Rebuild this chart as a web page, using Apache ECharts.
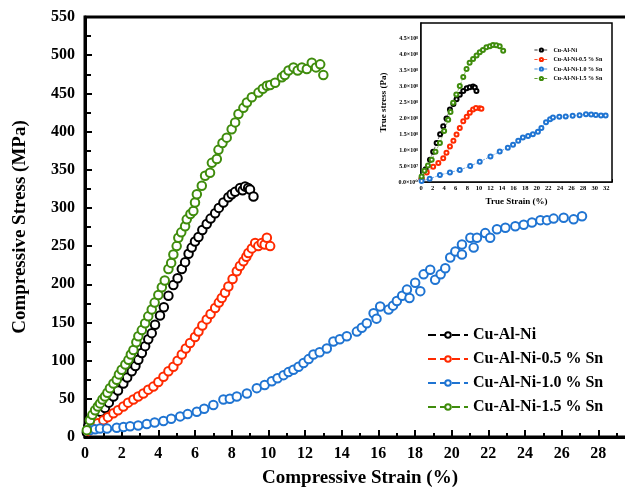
<!DOCTYPE html>
<html><head><meta charset="utf-8">
<script src="https://cdn.jsdelivr.net/npm/echarts@6/dist/echarts.min.js"></script>
<style>html,body{margin:0;padding:0;background:#fff}#c{width:625px;height:493px}</style>
</head><body><div id="c"></div><script>
// ---------- data (main plot: compressive strain %, compressive stress MPa) ----------
var seriesNames = ['Cu-Al-Ni', 'Cu-Al-Ni-0.5 % Sn', 'Cu-Al-Ni-1.0 % Sn', 'Cu-Al-Ni-1.5 % Sn'];
var seriesColors = ['#000000', '#ff2a00', '#1f74d2', '#3f8c0c'];

var mainCuAlNi = [[0.1,6],[0.18,14],[0.4,21],[0.64,27],[0.85,33],[1.09,38],[1.3,45],[1.55,53],[1.8,61],[2.09,70],[2.3,78],[2.55,86],[2.75,93],[2.91,101],[3.1,110],[3.28,119],[3.45,128],[3.64,136],[3.82,147],[4.09,159],[4.3,170],[4.55,185],[4.82,199],[5.05,208],[5.28,220],[5.46,229],[5.65,240],[5.82,248],[6.0,256],[6.19,262],[6.4,271],[6.64,279],[6.85,286],[7.1,293],[7.3,300],[7.55,307],[7.82,314],[8.0,318],[8.19,321],[8.46,326],[8.6,323],[8.73,328],[8.9,326],[9.0,324],[9.19,315]];
var mainSn05 = [[0.2,8],[0.45,14],[0.7,18],[1.0,22],[1.25,26],[1.55,31],[1.8,35],[2.09,40],[2.35,45],[2.64,49],[2.9,53],[3.18,57],[3.45,62],[3.73,66],[4.0,72],[4.28,79],[4.55,86],[4.82,92],[5.05,100],[5.28,108],[5.5,116],[5.73,123],[6.0,131],[6.19,138],[6.4,146],[6.64,154],[6.85,161],[7.1,169],[7.3,176],[7.46,182],[7.64,189],[7.82,197],[8.05,207],[8.28,217],[8.45,224],[8.64,230],[8.8,236],[8.91,241],[9.1,247],[9.28,254],[9.45,250],[9.64,254],[9.8,252],[9.92,261],[10.1,250]];
var mainSn10 = [[0.27,9],[0.55,10],[0.82,11],[1.2,11],[1.73,12],[2.1,13],[2.46,14],[2.9,15],[3.37,17],[3.8,19],[4.28,21],[4.7,24],[5.19,27],[5.6,30],[6.1,33],[6.5,37],[7.0,42],[7.55,49],[7.9,50],[8.28,53],[8.83,57],[9.37,64],[9.8,68],[10.19,73],[10.5,77],[10.83,81],[11.1,85],[11.37,88],[11.65,92],[11.92,97],[12.2,102],[12.46,108],[12.8,111],[13.19,116],[13.55,125],[13.9,128],[14.28,132],[14.83,138],[15.1,143],[15.37,149],[15.74,162],[15.9,155],[16.1,171],[16.56,167],[16.8,172],[17.01,178],[17.3,185],[17.56,193],[17.7,182],[18.01,202],[18.29,191],[18.47,213],[18.83,219],[19.1,206],[19.4,213],[19.65,221],[19.92,235],[20.2,243],[20.56,239],[20.56,252],[21.02,261],[21.2,248],[21.38,261],[21.83,267],[22.1,261],[22.47,272],[22.93,274],[23.47,276],[23.93,278],[24.38,281],[24.84,284],[25.2,284],[25.56,286],[26.11,287],[26.65,285],[27.11,289]];
var mainSn15 = [[0.1,9],[0.27,22],[0.4,29],[0.55,35],[0.7,40],[0.82,44],[0.95,49],[1.09,53],[1.22,58],[1.36,64],[1.55,70],[1.73,75],[1.85,82],[2.0,88],[2.2,95],[2.37,101],[2.5,108],[2.64,114],[2.8,124],[2.91,132],[3.1,140],[3.28,149],[3.45,158],[3.64,167],[3.8,176],[4.0,186],[4.19,196],[4.35,205],[4.55,220],[4.7,228],[4.82,239],[5.0,250],[5.09,261],[5.25,268],[5.46,276],[5.55,285],[5.75,292],[5.91,296],[6.0,307],[6.1,318],[6.37,329],[6.55,342],[6.82,346],[6.92,359],[7.19,364],[7.28,376],[7.5,385],[7.73,392],[8.0,403],[8.19,412],[8.37,423],[8.64,431],[8.83,438],[9.1,445],[9.46,451],[9.7,456],[9.92,460],[10.1,461],[10.37,464],[10.74,471],[10.9,474],[11.1,480],[11.37,484],[11.6,480],[11.83,484],[12.1,482],[12.37,490],[12.6,484],[12.83,488],[13.0,474]];

// ---------- inset data (true strain %, true stress Pa) ----------
var insetCuAlNi = [[0.1,0.1e8],[0.8,0.4e8],[1.55,0.70e8],[2.1,0.95e8],[2.7,1.23e8],[3.3,1.5e8],[3.84,1.75e8],[4.4,2.0e8],[5.0,2.28e8],[5.6,2.45e8],[6.14,2.6e8],[6.7,2.74e8],[7.3,2.86e8],[7.9,2.95e8],[8.43,2.98e8],[9.0,3.0e8],[9.3,2.97e8],[9.58,2.86e8]];
var insetSn05 = [[0.1,0.1e8],[1.0,0.3e8],[2.1,0.48e8],[3.0,0.6e8],[3.84,0.75e8],[4.4,0.92e8],[5.0,1.12e8],[5.6,1.30e8],[6.14,1.49e8],[6.7,1.70e8],[7.3,1.91e8],[7.9,2.05e8],[8.43,2.18e8],[9.0,2.28e8],[9.5,2.33e8],[10.15,2.32e8],[10.44,2.30e8]];
var insetSn10 = [[0.1,0.03e8],[1.5,0.1e8],[3.27,0.22e8],[5.0,0.3e8],[6.7,0.38e8],[8.5,0.5e8],[10.15,0.64e8],[12.0,0.8e8],[13.6,0.96e8],[15.0,1.08e8],[15.9,1.17e8],[16.8,1.3e8],[17.6,1.40e8],[18.5,1.45e8],[19.33,1.50e8],[20.2,1.58e8],[20.8,1.70e8],[21.6,1.88e8],[22.3,1.97e8],[22.8,2.03e8],[23.9,2.05e8],[25.0,2.06e8],[26.2,2.08e8],[27.4,2.10e8],[28.5,2.13e8],[29.4,2.12e8],[30.2,2.11e8],[31.1,2.09e8],[31.9,2.09e8]];
var insetSn15 = [[0.1,0.17e8],[0.6,0.35e8],[1.2,0.52e8],[1.84,0.70e8],[2.5,0.95e8],[3.27,1.23e8],[4.0,1.6e8],[4.7,1.96e8],[5.1,2.2e8],[5.56,2.49e8],[6.1,2.75e8],[6.7,3.02e8],[7.3,3.3e8],[7.87,3.55e8],[8.4,3.75e8],[9.0,3.87e8],[9.6,3.98e8],[10.15,4.08e8],[10.7,4.15e8],[11.3,4.24e8],[11.9,4.27e8],[12.44,4.31e8],[13.0,4.30e8],[13.6,4.27e8],[14.2,4.13e8]];

var mainData = [mainCuAlNi, mainSn05, mainSn10, mainSn15];
var insetData = [insetCuAlNi, insetSn05, insetSn10, insetSn15];

// ---------- chart ----------
var FONT = '"Liberation Serif", "DejaVu Serif", serif';
var SUP = '⁰¹²³⁴⁵⁶⁷⁸⁹';
function sciLabel(v) {
  if (v === 0) return '0.0×10' + SUP[0];
  var e = Math.floor(Math.log10(v) + 1e-9);
  var m = v / Math.pow(10, e);
  var es = String(e).split('').map(function (d) { return SUP[+d]; }).join('');
  return m.toFixed(1) + '×10' + es;
}

var chart = echarts.init(document.getElementById('c'), null, { renderer: 'canvas' });
var series = [];
mainData.forEach(function (d, i) {
  series.push({
    name: seriesNames[i], type: 'line', xAxisIndex: 0, yAxisIndex: 0, data: d,
    symbol: 'emptyCircle', symbolSize: 8.5, showAllSymbol: true, animation: false,
    itemStyle: { color: seriesColors[i], borderWidth: 3 },
    lineStyle: { color: seriesColors[i], width: 0, type: 'dashed' }, z: 3
  });
});
insetData.forEach(function (d, i) {
  series.push({
    name: seriesNames[i], type: 'line', xAxisIndex: 1, yAxisIndex: 1, data: d,
    symbol: 'emptyCircle', symbolSize: 4, showAllSymbol: true, animation: false,
    itemStyle: { color: seriesColors[i], borderWidth: 1.3 },
    lineStyle: { color: seriesColors[i], width: 0.6, type: 'dashed' }, z: 12
  });
});

var option = {
  backgroundColor: '#fff',
  animation: false,
  grid: [
    { left: 85, top: 17, width: 550, bottom: 56, show: true, borderColor: '#000', borderWidth: 3,
      outerBoundsMode: 'none', containLabel: false },
    { left: 421, top: 23, right: 13, bottom: 311, show: true, borderColor: '#000', borderWidth: 1.5,
      backgroundColor: '#fff', z: 10, outerBoundsMode: 'none', containLabel: false }
  ],
  legend: [
    {
      data: seriesNames, orient: 'vertical', left: 422, top: 321,
      itemWidth: 40, itemHeight: 7, itemGap: 6,
      lineStyle: { width: 2, type: 'dashed' },
      itemStyle: { borderWidth: 2 },
      textStyle: { fontFamily: FONT, fontWeight: 'bold', fontSize: 16, color: '#000', lineHeight: 18 },
      selectedMode: false
    },
    {
      data: seriesNames, orient: 'vertical', left: 529, top: 42,
      itemWidth: 14, itemHeight: 4, itemGap: 3.5, z: 20,
      lineStyle: { width: 0.8, type: 'dashed' },
      textStyle: { fontFamily: FONT, fontWeight: 'bold', fontSize: 6, color: '#000', lineHeight: 6 },
      selectedMode: false
    }
  ],
  xAxis: [
    {
      gridIndex: 0, type: 'value', min: 0, max: 30, interval: 2,
      name: 'Compressive Strain (%)', nameLocation: 'middle', nameGap: 32,
      nameTextStyle: { fontFamily: FONT, fontWeight: 'bold', fontSize: 19, color: '#000' },
      axisLine: { show: true, lineStyle: { color: '#000', width: 3 } },
      axisTick: { show: true, inside: true, length: 7, lineStyle: { color: '#000', width: 2 } },
      minorTick: { show: true, splitNumber: 2, length: 4, lineStyle: { color: '#000', width: 2 } },
      splitLine: { show: false },
      axisLabel: { fontFamily: FONT, fontWeight: 'bold', fontSize: 16, color: '#000', margin: 9,
        formatter: function (v) { return v <= 28 ? String(v) : ''; } }
    },
    {
      gridIndex: 1, type: 'value', min: 0, max: 33, interval: 2,
      name: 'True Strain (%)', nameLocation: 'middle', nameGap: 15,
      nameTextStyle: { fontFamily: FONT, fontWeight: 'bold', fontSize: 9, color: '#000' },
      axisLine: { show: true, lineStyle: { color: '#000', width: 1.5 } },
      axisTick: { show: true, inside: true, length: 3, lineStyle: { color: '#000', width: 1 } },
      minorTick: { show: true, splitNumber: 2, length: 2, lineStyle: { color: '#000', width: 1 } },
      splitLine: { show: false },
      axisLabel: { fontFamily: FONT, fontWeight: 'bold', fontSize: 6.5, color: '#000', margin: 3,
        formatter: function (v) { return v % 2 === 0 ? String(v) : ''; } }
    }
  ],
  yAxis: [
    {
      gridIndex: 0, type: 'value', min: 0, max: 550, interval: 50,
      name: 'Compressive Stress (MPa)', nameLocation: 'middle', nameGap: 55,
      nameTextStyle: { fontFamily: FONT, fontWeight: 'bold', fontSize: 19, color: '#000' },
      axisLine: { show: true, lineStyle: { color: '#000', width: 3 } },
      axisTick: { show: true, inside: true, length: 7, lineStyle: { color: '#000', width: 2 } },
      minorTick: { show: true, splitNumber: 2, length: 6, lineStyle: { color: '#000', width: 2 } },
      splitLine: { show: false },
      axisLabel: { fontFamily: FONT, fontWeight: 'bold', fontSize: 16, color: '#000', margin: 10 }
    },
    {
      gridIndex: 1, type: 'value', min: 0, max: 5e8, interval: 0.5e8,
      name: 'True stress (Pa)', nameLocation: 'middle', nameGap: 33,
      nameTextStyle: { fontFamily: FONT, fontWeight: 'bold', fontSize: 9, color: '#000' },
      axisLine: { show: true, lineStyle: { color: '#000', width: 1.5 } },
      axisTick: { show: true, inside: true, length: 3, lineStyle: { color: '#000', width: 1 } },
      minorTick: { show: true, splitNumber: 2, length: 2, lineStyle: { color: '#000', width: 1 } },
      splitLine: { show: false },
      axisLabel: { fontFamily: FONT, fontWeight: 'bold', fontSize: 6, color: '#000', margin: 3,
        showMaxLabel: false, formatter: sciLabel }
    }
  ],
  series: series
};
chart.setOption(option);
</script></body></html>
